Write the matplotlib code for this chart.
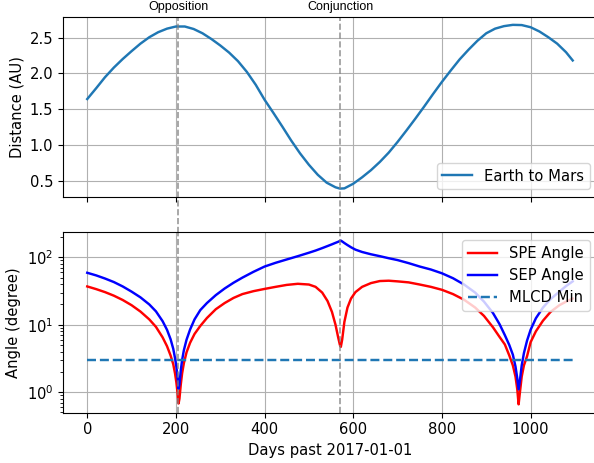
import numpy as np
import matplotlib.pyplot as plt
from matplotlib.ticker import MultipleLocator

# ******************************************************************************
# * Data (days past 2017-01-01)
# ******************************************************************************
dist_days = [0, 20, 40, 60, 80, 100, 120, 140, 160, 180, 200, 220, 240, 260,
             280, 300, 320, 340, 360, 380, 400, 420, 440, 460, 480, 500, 520,
             540, 560, 570, 580, 600, 620, 640, 660, 680, 700, 720, 740, 760,
             780, 800, 820, 840, 860, 880, 900, 920, 940, 960, 980, 1000, 1020,
             1040, 1060, 1080, 1095]

dist_au = [1.64, 1.79, 1.945, 2.08, 2.20, 2.31, 2.415, 2.505, 2.575, 2.625,
           2.655, 2.655, 2.62, 2.56, 2.48, 2.39, 2.29, 2.17, 2.02, 1.84, 1.63,
           1.445, 1.255, 1.06, 0.88, 0.72, 0.58, 0.47, 0.405, 0.387, 0.39,
           0.455, 0.545, 0.645, 0.76, 0.89, 1.04, 1.20, 1.365, 1.535, 1.71,
           1.88, 2.04, 2.195, 2.33, 2.455, 2.56, 2.625, 2.66, 2.678, 2.675,
           2.645, 2.585, 2.505, 2.415, 2.295, 2.18]

angle_days = [0, 20, 40, 60, 80, 100, 120, 140, 155, 170, 180, 188, 194, 198,
              201, 204, 206, 208, 211, 214, 218, 224, 232, 242, 255, 270, 290,
              310, 330, 350, 375, 400, 425, 450, 475, 500, 515, 530, 542, 552,
              560, 566, 570, 572, 575, 580, 587, 595, 605, 620, 640, 660, 680,
              700, 725, 750, 775, 800, 825, 850, 875, 895, 915, 930, 942, 952,
              960, 966, 970, 973, 976, 980, 985, 992, 1000, 1012, 1028, 1045,
              1065, 1080, 1095]

spe_angle = [37, 33.8, 30.5, 27, 23.3, 19.5, 15.7, 12, 9.3, 6.5, 4.8, 3.5, 2.6,
             1.9, 1.4, 0.95, 0.68, 0.8, 1.3, 1.9, 2.7, 3.9, 5.4, 7.3, 9.6, 12.6,
             17, 21, 25, 28.5, 31.5, 34, 36.5, 39, 40.5, 39.5, 36.5, 30, 22.5,
             15.5, 10, 6.5, 5.0, 4.7, 6.0, 11, 18, 24.5, 30.5, 36.5, 41.5, 44.5,
             45, 44, 42.5, 39.5, 36.5, 33, 28.5, 23.5, 18, 13.5, 9.2, 6.6, 5.1,
             3.5, 2.5, 1.7, 1.1, 0.66, 1.0, 1.7, 2.5, 3.4, 5.5, 8.0, 11.5, 15.5,
             19.5, 22, 24.5]

sep_angle = [59, 54, 48.5, 43, 37, 31, 25.5, 20, 15.8, 11.3, 8.4, 6.1, 4.4,
             3.2, 2.4, 1.6, 1.12, 1.3, 2.1, 3.0, 4.2, 6.0, 8.5, 12, 16.5, 21,
             27.5, 34.5, 42, 50, 61, 73, 83, 93, 104, 117, 126, 137, 147, 156,
             164, 170, 175, 177, 172, 163, 152, 141, 130, 120, 111, 104, 97, 91,
             82, 73, 66, 58, 49, 39.5, 30, 22, 15, 10.2, 7.0, 5.0, 3.6, 2.4, 1.6,
             1.1, 1.5, 2.5, 3.8, 5.8, 8.4, 12.5, 18, 24, 31, 37.5, 44]

mlcd_min = 3
event_days = [205, 571]
event_labels = ['Opposition', 'Conjunction']

plt.rcParams['font.size'] = 10.6
plt.rcParams['lines.linewidth'] = 1.75

fig = plt.figure(figsize=(5.94, 4.63), dpi=100)
ax1 = fig.add_axes([0.106, 0.575, 0.899, 0.389])
ax2 = fig.add_axes([0.106, 0.109, 0.899, 0.389], sharex=ax1)

# Distance plot
ax1.plot(dist_days, dist_au, label='Earth to Mars')
ax1.set_ylabel('Distance (AU)')
ax1.yaxis.set_major_locator(MultipleLocator(0.5))
ax1.grid(True)
ax1.legend(loc='lower right')
plt.setp(ax1.get_xticklabels(), visible=False)

# Angle plot
ax2.semilogy(angle_days, spe_angle, color='r', label='SPE Angle')
ax2.semilogy(angle_days, sep_angle, color='b', label='SEP Angle')
ax2.semilogy([angle_days[0], angle_days[-1]], [mlcd_min, mlcd_min], '--',
             color='C0', label='MLCD Min')
ax2.set_ylabel('Angle (degree)')
ax2.set_xlabel('Days past 2017-01-01')
ax2.grid(True)
ax2.legend(loc='upper right')

# Event markers across both panels
for d, lbl in zip(event_days, event_labels):
    ax1.axvline(d, ymin=-0.2, ymax=1, clip_on=False, color='gray', ls='--',
                lw=1.2, alpha=0.8)
    ax2.axvline(d, color='gray', ls='--', lw=1.2, alpha=0.8)
    ax1.text(d, 1.02, lbl, transform=ax1.get_xaxis_transform(), ha='center',
             va='bottom', fontsize=9, family='Liberation Sans')

fig.savefig('out.png', dpi=100)
